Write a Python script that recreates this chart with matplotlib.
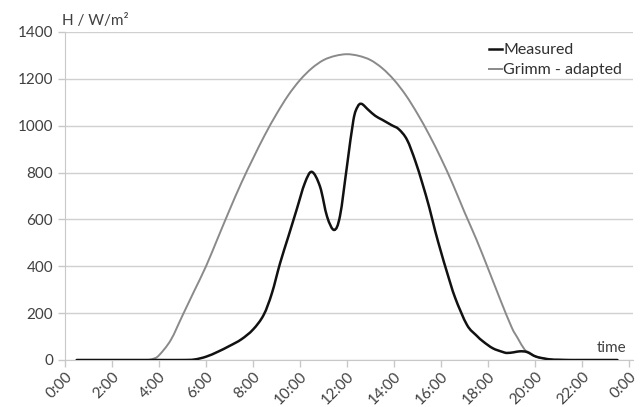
import matplotlib
matplotlib.use("Agg")
import matplotlib.pyplot as plt
from matplotlib.path import Path
from matplotlib.patches import PathPatch
from matplotlib.lines import Line2D

plt.rcParams['font.family'] = ['Lato', 'DejaVu Sans']

# hours of day
meas_t = [0.5, 1, 2, 3, 4, 5, 5.5, 6, 6.5, 7, 7.5, 8, 8.45, 8.8, 9.15, 9.5, 9.85,
          10.2, 10.5, 10.85, 11.15, 11.45, 11.7, 12.0, 12.27, 12.45, 12.62, 12.9,
          13.2, 13.5, 13.9, 14.2, 14.55, 14.9, 15.2, 15.5, 15.75, 16, 16.25, 16.6,
          17.1, 17.5, 17.8, 18.2, 18.6, 18.8, 19.1, 19.35, 19.65, 20.05, 20.6, 21,
          21.5, 22, 23, 23.5]
measured = [0, 0, 0, 0, 0, 0, 2, 14, 35, 60, 88, 130, 192, 284, 413, 526, 640,
            754, 803, 740, 612, 555, 615, 830, 1024, 1081, 1093, 1068,
            1042, 1025, 1002, 985, 940, 850, 755, 650, 550, 460, 375, 265,
            150, 105, 78, 50, 35, 30, 33, 37, 34, 14, 3, 1,
            0, 0, 0, 0]

grimm_t = [0.5, 1, 2, 3, 3.5, 3.75, 4, 4.5, 5, 5.5, 6, 6.5, 7, 7.5, 8, 8.5, 9, 9.5,
           10, 10.5, 11, 11.5, 12, 12.5, 13, 13.5, 14, 14.5, 15, 15.5, 16, 16.5,
           17, 17.5, 18, 18.5, 19, 19.25, 19.55, 19.75, 20.05, 20.6, 21, 21.5, 22,
           23, 23.5]
grimm = [0, 0, 0, 0, 0, 5, 20, 85, 190, 295, 400, 520, 640, 755, 860, 960, 1050, 1130,
         1195, 1245, 1280, 1298, 1305, 1298, 1280, 1245, 1195, 1130, 1050, 960, 860, 750,
         630, 515, 390, 262, 140, 95, 45, 32, 14, 3, 1, 0, 0,
         0, 0]

xticks = list(range(0, 25, 2))
xlabels = ['%d:00' % (h % 24) for h in xticks]
yticks = list(range(0, 1401, 200))


def smooth_path(xs, ys):
    # bezier segments through the points, like a spreadsheet "smoothed line"
    pts = list(zip(xs, ys))
    verts = [pts[0]]
    codes = [Path.MOVETO]
    n = len(pts)
    for i in range(n - 1):
        p0 = pts[i - 1] if i > 0 else pts[i]
        p1 = pts[i]
        p2 = pts[i + 1]
        p3 = pts[i + 2] if i + 2 < n else pts[i + 1]
        c1 = (p1[0] + (p2[0] - p0[0]) / 6, p1[1] + (p2[1] - p0[1]) / 6)
        c2 = (p2[0] - (p3[0] - p1[0]) / 6, p2[1] - (p3[1] - p1[1]) / 6)
        verts += [c1, c2, p2]
        codes += [Path.CURVE4] * 3
    return Path(verts, codes)


fig = plt.figure(figsize=(6.42, 4.07), dpi=100)
ax = fig.add_axes([0.1012, 0.1155, 0.885, 0.806])

ax.add_patch(PathPatch(smooth_path(grimm_t, grimm), facecolor='none',
                       edgecolor='#8a8a8a', lw=1.4, zorder=2, capstyle='round'))
ax.add_patch(PathPatch(smooth_path(meas_t, measured), facecolor='none',
                       edgecolor='#111111', lw=1.8, zorder=3, capstyle='round'))

ax.set_xlim(0, 24.17)
ax.set_ylim(0, 1400)
ax.set_xticks(xticks)
ax.set_xticklabels(xlabels, rotation=45, ha='right', rotation_mode='anchor')
ax.set_yticks(yticks)
ax.grid(axis='y', color='#d0d0d0', lw=1)
ax.set_axisbelow(True)

for s in ['top', 'right']:
    ax.spines[s].set_visible(False)
ax.spines['left'].set_color('#c8c8c8')
ax.spines['bottom'].set_color('#c8c8c8')
ax.tick_params(axis='both', colors='#c8c8c8', labelcolor='#404040', labelsize=11,
               length=5, width=1)
ax.tick_params(axis='x', pad=2)

fig.text(62 / 642, 1 - 25 / 407, 'H / W/m²', fontsize=11, color='#404040',
         ha='left', va='baseline')
ax.text(23.9, 22, 'time', fontsize=11, color='#404040', ha='right', va='bottom')

handles = [Line2D([], [], color='#111111', lw=1.8),
           Line2D([], [], color='#8a8a8a', lw=1.4)]
leg = ax.legend(handles, ['Measured', 'Grimm - adapted'], loc='upper left',
                bbox_to_anchor=(0.735, 0.985), frameon=False, fontsize=11.5,
                handlelength=0.8, handletextpad=0.1, labelspacing=0.35,
                borderaxespad=0)
for t in leg.get_texts():
    t.set_color('#303030')

fig.savefig('out.png', dpi=100)
